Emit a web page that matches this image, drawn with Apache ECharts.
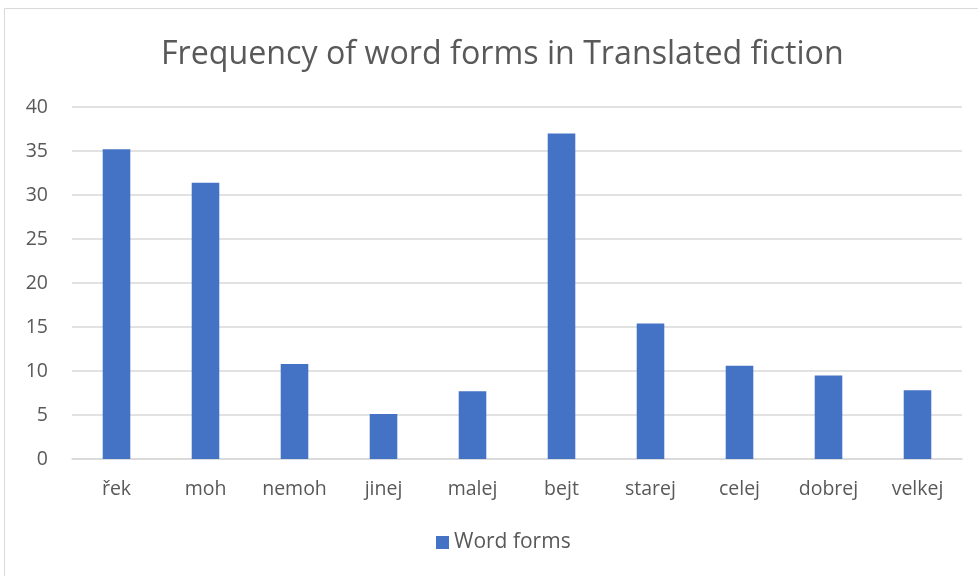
<!DOCTYPE html>
<html><head><meta charset="utf-8">
<script src="https://cdn.jsdelivr.net/npm/echarts@6/dist/echarts.min.js"></script>
<style>html,body{margin:0;padding:0;background:#fff}#c{width:978px;height:576px}</style>
</head><body><div id="c"></div>
<script>
const categories = ['řek','moh','nemoh','jinej','malej','bejt','starej','celej','dobrej','velkej'];
const wordForms = [35.2, 31.4, 10.8, 5.1, 7.7, 37.0, 15.4, 10.6, 9.5, 7.8];
const yTicks = {min: 0, max: 40, interval: 5};
const chart = echarts.init(document.getElementById('c'), null, {renderer: 'canvas'});
const font = '"Open Sans", "Noto Sans", sans-serif';
chart.setOption({
  animation: false,
  backgroundColor: '#fff',
  graphic: [{type: 'rect', shape: {x: 4.5, y: 8.5, width: 990, height: 600},
    style: {fill: 'none', stroke: '#d9d9d9', lineWidth: 1}, silent: true}],
  title: {text: 'Frequency of word forms in Translated fiction', left: 156, top: 34,
    textStyle: {fontFamily: font, fontSize: 32.2, fontWeight: 'normal', color: '#595959'}},
  legend: {bottom: 18, left: 431, itemWidth: 13, itemHeight: 13, itemGap: 8, icon: 'rect',
    textStyle: {fontFamily: font, fontSize: 21, color: '#595959'}},
  grid: {left: 72, right: 16, top: 107, bottom: 117, containLabel: false},
  xAxis: {type: 'category', data: categories,
    axisLine: {lineStyle: {color: '#d9d9d9', width: 1.5}}, axisTick: {show: false},
    axisLabel: {fontFamily: font, fontSize: 19.5, color: '#595959', margin: 20}},
  yAxis: {type: 'value', min: yTicks.min, max: yTicks.max, interval: yTicks.interval,
    axisLine: {show: false}, axisTick: {show: false},
    splitLine: {lineStyle: {color: '#d9d9d9', width: 1.5}},
    axisLabel: {fontFamily: font, fontSize: 19.5, color: '#595959', margin: 24}},
  series: [{name: 'Word forms', type: 'bar', data: wordForms, barWidth: '31%',
    itemStyle: {color: '#4472c4'}}]
});
</script></body></html>
